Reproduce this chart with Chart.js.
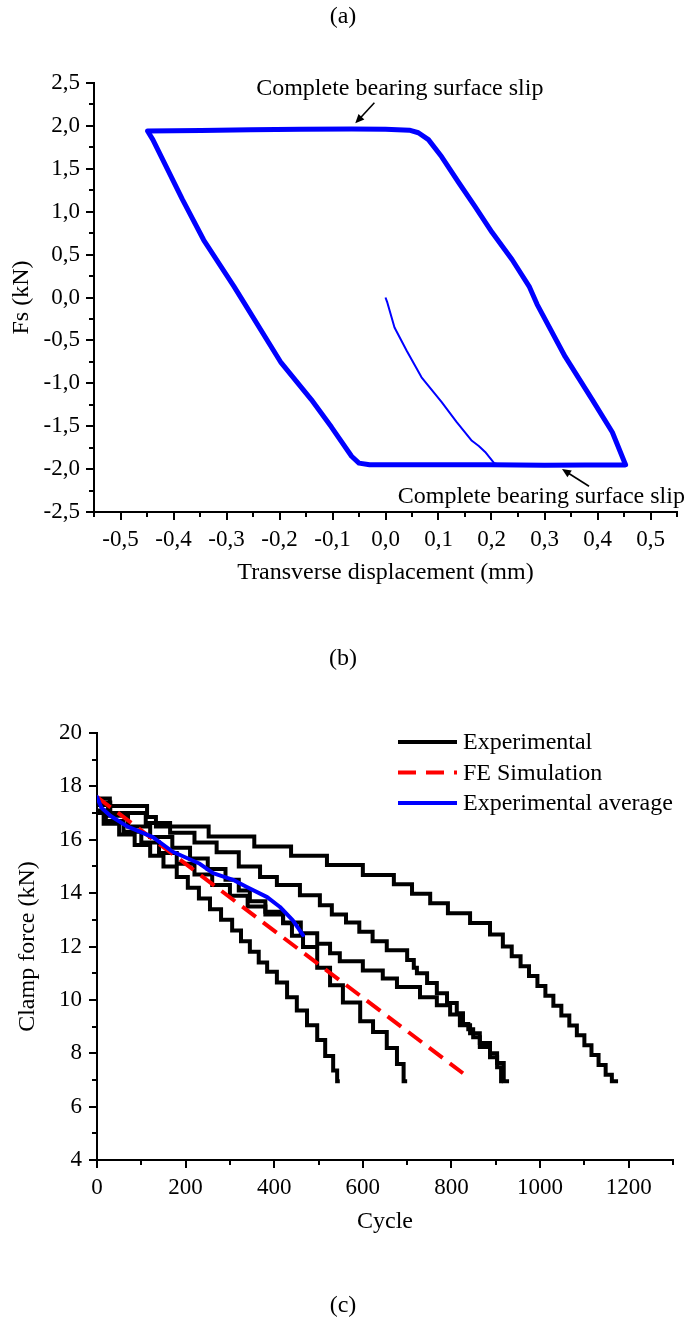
<!DOCTYPE html>
<html>
<head>
<meta charset="utf-8">
<script src="https://cdn.jsdelivr.net/npm/chart.js@4.4.1/dist/chart.umd.min.js"></script>
<style>
  html, body { margin: 0; padding: 0; background: #fff; }
  body { width: 686px; height: 1320px; position: relative; overflow: hidden; font-family: "Liberation Serif", "Times New Roman", serif; }
  .cap { position: absolute; left: 0; width: 686px; text-align: center; font-size: 24px; line-height: 26px; color: #000; z-index: 2; }
  #wrapA { position: absolute; left: 0; top: 0; width: 686px; height: 620px; }
  #wrapC { position: absolute; left: 0; top: 640px; width: 686px; height: 680px; }
</style>
</head>
<body>
<div class="cap" style="top:2px">(a)</div>
<div id="wrapA"><canvas id="chartA"></canvas></div>
<div class="cap" style="top:644px">(b)</div>
<div id="wrapC"><canvas id="chartC"></canvas></div>
<div class="cap" style="top:1291px">(c)</div>

<script>
// ---- (b) hysteresis loop: Fs vs transverse displacement ----
const dispTicks = [-0.5, -0.4, -0.3, -0.2, -0.1, 0.0, 0.1, 0.2, 0.3, 0.4, 0.5];
const fsTicks = [-2.5, -2.0, -1.5, -1.0, -0.5, 0.0, 0.5, 1.0, 1.5, 2.0, 2.5];

// first loading branch from the origin
const firstLoading = [
  [0, 0], [0.003, -0.05], [0.017, -0.35], [0.04, -0.62], [0.068, -0.93], [0.106, -1.22],
  [0.134, -1.45], [0.163, -1.67], [0.176, -1.73], [0.188, -1.80], [0.205, -1.93], [0.215, -1.95]
];

// stabilised cycles (closed loop)
const hystLoop = [
  [0.453, -1.95], [0.451, -1.92], [0.428, -1.57], [0.390, -1.19], [0.339, -0.69], [0.286, -0.08],
  [0.271, 0.13], [0.239, 0.44], [0.201, 0.76], [0.169, 1.06], [0.138, 1.34], [0.106, 1.64],
  [0.081, 1.84], [0.062, 1.92], [0.045, 1.95], [0.0, 1.96], [-0.064, 1.965], [-0.159, 1.96],
  [-0.254, 1.955], [-0.348, 1.945], [-0.449, 1.94], [-0.439, 1.84], [-0.383, 1.14], [-0.343, 0.67],
  [-0.286, 0.13], [-0.267, -0.06], [-0.197, -0.76], [-0.140, -1.19], [-0.102, -1.51], [-0.064, -1.85],
  [-0.050, -1.93], [-0.030, -1.95], [0.1, -1.95], [0.2, -1.95], [0.3, -1.955], [0.453, -1.95]
];

const slipNotes = [
  { text: 'Complete bearing surface slip', tx: 0.027, ty: 2.36, from: [-0.021, 2.27], to: [-0.057, 2.03] },
  { text: 'Complete bearing surface slip', tx: 0.294, ty: -2.395, from: [0.384, -2.20], to: [0.333, -2.0] }
];

// ---- (c) clamp force vs cycle ----
const cycleTicks = [0, 200, 400, 600, 800, 1000, 1200];
const clampTicks = [4, 6, 8, 10, 12, 14, 16, 18, 20];

const exp1 = [
  [0, 17.55], [29, 17.26], [113, 16.85], [133, 16.5], [252, 16.12], [355, 15.75], [438, 15.4],
  [519, 15.05], [600, 14.68], [670, 14.33], [711, 13.98], [752, 13.62], [792, 13.25], [842, 12.88],
  [887, 12.45], [916, 12.0], [936, 11.63], [956, 11.26], [975, 10.89], [994, 10.52], [1012, 10.15],
  [1030, 9.78], [1048, 9.41], [1066, 9.04], [1083, 8.67], [1100, 8.30], [1116, 7.93], [1132, 7.56],
  [1148, 7.19], [1162, 6.95], [1176, 6.95]
];
const exp2 = [
  [0, 17.4], [30, 17.0], [110, 16.63], [165, 16.26], [220, 15.9], [270, 15.53], [320, 15.0],
  [368, 14.6], [406, 14.3], [458, 13.92], [503, 13.55], [530, 13.2], [562, 12.9], [592, 12.55],
  [622, 12.2], [654, 11.86], [700, 11.49], [715, 11.2], [722, 11.0], [745, 10.63], [767, 10.25],
  [790, 9.88], [812, 9.5], [826, 9.1], [838, 8.9], [849, 8.6], [864, 8.23], [887, 7.85],
  [903, 7.48], [912, 6.95], [916, 6.95]
];
const exp3 = [
  [0, 17.3], [25, 16.9], [70, 16.5], [120, 16.1], [170, 15.7], [210, 15.3], [250, 14.9],
  [290, 14.5], [320, 14.1], [345, 13.7], [380, 13.3], [420, 12.9], [460, 12.5], [497, 12.1],
  [526, 11.75], [548, 11.45], [600, 11.1], [645, 10.8], [677, 10.48], [729, 10.1], [767, 9.8],
  [797, 9.45], [819, 9.05], [842, 8.75], [864, 8.38], [887, 8.0], [903, 7.63], [918, 6.95], [930, 6.95]
];
const exp4 = [
  [0, 17.1], [20, 16.7], [60, 16.3], [100, 15.9], [140, 15.5], [180, 15.1], [220, 14.7],
  [260, 14.3], [300, 13.9], [340, 13.5], [380, 13.2], [420, 12.87], [440, 12.4], [465, 11.98],
  [497, 11.2], [526, 10.55], [555, 9.9], [594, 9.2], [623, 8.8], [654, 8.2], [677, 7.6],
  [692, 6.95], [700, 6.95]
];
const exp5 = [
  [0, 17.0], [15, 16.6], [50, 16.2], [85, 15.8], [120, 15.4], [150, 15.0], [180, 14.6],
  [205, 14.2], [230, 13.8], [255, 13.4], [280, 13.0], [305, 12.6], [325, 12.2], [345, 11.8],
  [365, 11.4], [384, 11.05], [406, 10.65], [429, 10.1], [451, 9.6], [474, 9.05], [497, 8.5],
  [515, 7.9], [533, 7.35], [542, 6.95], [548, 6.95]
];
const feSim = [[0, 17.6], [368, 12.99], [826, 7.25]];
const expAvg = [
  [0, 17.6], [10, 17.2], [30, 16.9], [68, 16.5], [126, 16.1], [171, 15.55], [232, 15.1],
  [262, 14.75], [307, 14.5], [338, 14.23], [384, 13.85], [413, 13.48], [442, 12.98], [465, 12.43]
];

const legendItems = [
  { label: 'Experimental', color: '#000000', dash: [] },
  { label: 'FE Simulation', color: '#ff0000', dash: [18, 10] },
  { label: 'Experimental average', color: '#0000ff', dash: [] }
];

// ---- helpers ----
const serif = "'Liberation Serif', 'Times New Roman', serif";
const tickFont = { family: serif, size: 23 };
const titleFont = { family: serif, size: 24, lineHeight: 1 };
const pts = arr => arr.map(p => ({ x: p[0], y: p[1] }));
const comma = v => v.toFixed(1).replace('.', ',');

// major + minor tick marks drawn outside the axes
function tickMarks(cfg) {
  return {
    id: 'tickMarks',
    afterDraw(chart) {
      const { ctx, chartArea } = chart;
      ctx.save();
      ctx.strokeStyle = '#000';
      ctx.lineWidth = 2;
      ctx.beginPath();
      ['x', 'y'].forEach(id => {
        const s = chart.scales[id];
        const c = cfg[id];
        const n = Math.round((s.max - s.min) / c.minor);
        for (let i = 0; i <= n; i++) {
          const v = s.min + i * c.minor;
          const major = c.major.some(m => Math.abs(m - v) < 1e-6);
          const len = major ? c.len[0] : c.len[1];
          const p = Math.round(s.getPixelForValue(v));
          if (id === 'x') {
            ctx.moveTo(p, chartArea.bottom);
            ctx.lineTo(p, chartArea.bottom + len);
          } else {
            ctx.moveTo(chartArea.left, p);
            ctx.lineTo(chartArea.left - len, p);
          }
        }
      });
      ctx.stroke();
      ctx.restore();
    }
  };
}

function arrow(ctx, x0, y0, x1, y1) {
  const a = Math.atan2(y1 - y0, x1 - x0);
  const hl = 9, hw = 4;
  ctx.beginPath();
  ctx.moveTo(x0, y0);
  ctx.lineTo(x1 - hl * 0.7 * Math.cos(a), y1 - hl * 0.7 * Math.sin(a));
  ctx.stroke();
  ctx.beginPath();
  ctx.moveTo(x1, y1);
  ctx.lineTo(x1 - hl * Math.cos(a) + hw * Math.sin(a), y1 - hl * Math.sin(a) - hw * Math.cos(a));
  ctx.lineTo(x1 - hl * Math.cos(a) - hw * Math.sin(a), y1 - hl * Math.sin(a) + hw * Math.cos(a));
  ctx.closePath();
  ctx.fill();
}

const slipLabels = {
  id: 'slipLabels',
  afterDatasetsDraw(chart) {
    const { ctx, scales: { x, y } } = chart;
    ctx.save();
    ctx.fillStyle = '#000';
    ctx.strokeStyle = '#000';
    ctx.lineWidth = 1.6;
    ctx.font = '24px ' + serif;
    ctx.textAlign = 'center';
    ctx.textBaseline = 'alphabetic';
    slipNotes.forEach(n => {
      ctx.fillText(n.text, x.getPixelForValue(n.tx), y.getPixelForValue(n.ty));
      arrow(ctx, x.getPixelForValue(n.from[0]), y.getPixelForValue(n.from[1]),
                 x.getPixelForValue(n.to[0]), y.getPixelForValue(n.to[1]));
    });
    ctx.restore();
  }
};

const lineLegend = {
  id: 'lineLegend',
  afterDraw(chart) {
    const ctx = chart.ctx;
    const x0 = 398, x1 = 457, top = 102, gap = 30.5;
    ctx.save();
    ctx.font = '24px ' + serif;
    ctx.textBaseline = 'middle';
    ctx.fillStyle = '#000';
    legendItems.forEach((it, i) => {
      const yy = top + i * gap;
      ctx.strokeStyle = it.color;
      ctx.lineWidth = 4;
      ctx.setLineDash(it.dash);
      ctx.beginPath();
      ctx.moveTo(x0, yy);
      ctx.lineTo(x1, yy);
      ctx.stroke();
      ctx.setLineDash([]);
      ctx.fillText(it.label, x1 + 6, yy + 1);
    });
    ctx.restore();
  }
};

function axisScale(min, max, ticks, fmt, pad, title, titlePad, size, isX) {
  return {
    type: 'linear',
    min: min,
    max: max,
    afterBuildTicks: s => { s.ticks = ticks.map(v => ({ value: v })); },
    afterFit: s => { if (isX) s.height = size; else s.width = size; },
    grid: { display: false, drawTicks: false },
    border: { display: true, color: '#000', width: 2 },
    ticks: { color: '#000', font: tickFont, padding: pad, autoSkip: false, maxRotation: 0, callback: fmt },
    title: { display: true, text: title, color: '#000', font: titleFont, padding: titlePad }
  };
}

// ---- chart (b) ----
new Chart(document.getElementById('chartA'), {
  type: 'scatter',
  data: {
    datasets: [
      { data: pts(hystLoop), showLine: true, borderColor: '#0000ff', borderWidth: 5,
        borderJoinStyle: 'round', borderCapStyle: 'round', pointRadius: 0 },
      { data: pts(firstLoading), showLine: true, borderColor: '#0000ff', borderWidth: 2,
        borderJoinStyle: 'round', pointRadius: 0 }
    ]
  },
  options: {
    responsive: true,
    maintainAspectRatio: false,
    animation: false,
    layout: { padding: { top: 83, right: 9, bottom: 35, left: 0 } },
    plugins: { legend: { display: false }, tooltip: { enabled: false } },
    scales: {
      x: axisScale(-0.55, 0.55, dispTicks, v => comma(v), 14, 'Transverse displacement (mm)', { top: 0, bottom: 0 }, 73, true),
      y: axisScale(-2.5, 2.5, fsTicks, v => comma(v), 14, 'Fs (kN)', { top: 10, bottom: 0 }, 94, false)
    }
  },
  plugins: [
    tickMarks({ x: { major: dispTicks, minor: 0.05, len: [8, 5] }, y: { major: fsTicks, minor: 0.25, len: [8, 5] } }),
    slipLabels
  ]
});

// ---- chart (c) ----
const stepLine = (arr, color) => ({
  data: pts(arr), showLine: true, stepped: 'before', borderColor: color, borderWidth: 4,
  borderJoinStyle: 'miter', pointRadius: 0
});

new Chart(document.getElementById('chartC'), {
  type: 'scatter',
  data: {
    datasets: [
      { data: pts(expAvg), showLine: true, borderColor: '#0000ff', borderWidth: 4,
        borderJoinStyle: 'round', borderCapStyle: 'round', pointRadius: 0 },
      { data: pts(feSim), showLine: true, borderColor: '#ff0000', borderWidth: 4,
        borderDash: [17, 9], pointRadius: 0 },
      stepLine(exp1, '#000'),
      stepLine(exp2, '#000'),
      stepLine(exp3, '#000'),
      stepLine(exp4, '#000'),
      stepLine(exp5, '#000')
    ]
  },
  options: {
    responsive: true,
    maintainAspectRatio: false,
    animation: false,
    layout: { padding: { top: 93, right: 13, bottom: 86, left: 0 } },
    plugins: { legend: { display: false }, tooltip: { enabled: false } },
    scales: {
      x: axisScale(0, 1300, cycleTicks, v => String(v), 14, 'Cycle', { top: 0, bottom: 0 }, 74, true),
      y: axisScale(4, 20, clampTicks, v => String(v), 15, 'Clamp force (kN)', { top: 16, bottom: 0 }, 97, false)
    }
  },
  plugins: [
    tickMarks({ x: { major: cycleTicks, minor: 100, len: [8, 5] }, y: { major: clampTicks, minor: 1, len: [8, 5] } }),
    lineLegend
  ]
});
</script>
</body>
</html>
